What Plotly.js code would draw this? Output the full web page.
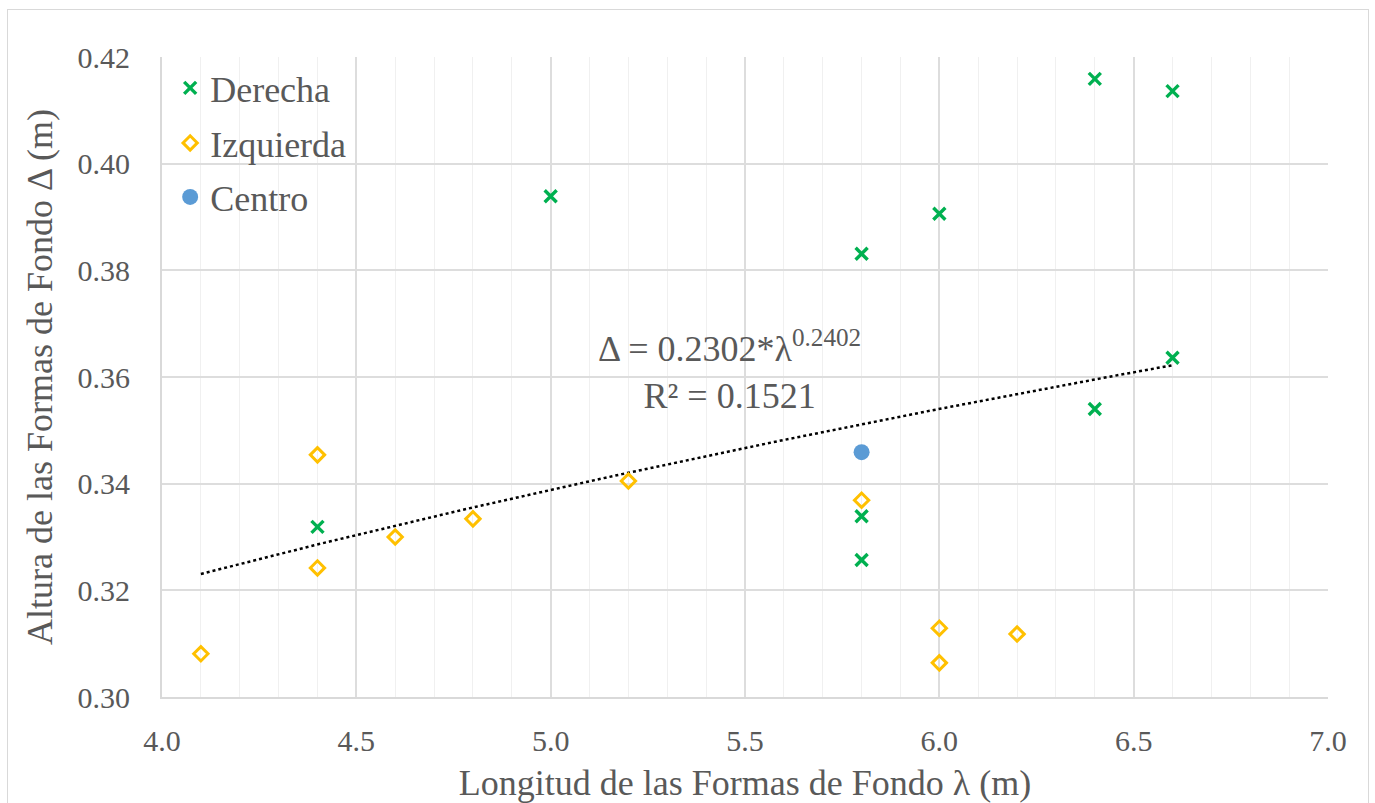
<!DOCTYPE html>
<html>
<head>
<meta charset="utf-8">
<script src="https://cdn.plot.ly/plotly-3.0.1.min.js"></script>
<style>
html,body{margin:0;padding:0;background:#fff;}
#wrap{position:relative;width:1375px;height:803px;overflow:hidden;}
#chart{width:1375px;height:803px;}
#frame{position:absolute;left:7px;top:9px;width:1362px;height:810px;border:1.5px solid #D9D9D9;pointer-events:none;box-sizing:border-box;}
</style>
</head>
<body>
<div id="wrap"><div id="chart"></div><div id="frame"></div></div>
<script>
// Data
const derechaX = [4.4, 5.0, 5.8, 5.8, 5.8, 6.0, 6.4, 6.4, 6.6, 6.6];
const derechaY = [0.3319, 0.3939, 0.3831, 0.3339, 0.3257, 0.3906, 0.4159, 0.3540, 0.4136, 0.3636];

const izquierdaX = [4.1, 4.4, 4.4, 4.6, 4.8, 5.2, 5.8, 6.0, 6.0, 6.2];
const izquierdaY = [0.3081, 0.3454, 0.3242, 0.3300, 0.3334, 0.3405, 0.3369, 0.3129, 0.3064, 0.3118];

const centroX = [5.8];
const centroY = [0.3459];

// Power trendline reported on the chart: Δ = a * λ^b
const trendA = 0.2302;
const trendB = 0.2402;
const trendRange = [4.1, 6.6];

const xTicks = [4.0, 4.5, 5.0, 5.5, 6.0, 6.5, 7.0];
const xMinorTicks = [4.1, 4.2, 4.3, 4.4, 4.6, 4.7, 4.8, 4.9, 5.1, 5.2, 5.3, 5.4, 5.6, 5.7, 5.8, 5.9,
                     6.1, 6.2, 6.3, 6.4, 6.6, 6.7, 6.8, 6.9];
const yTicks = [0.30, 0.32, 0.34, 0.36, 0.38, 0.40, 0.42];

const trendX = [];
const trendY = [];
const nT = 60;
for (let i = 0; i <= nT; i++) {
  const x = trendRange[0] + (trendRange[1] - trendRange[0]) * i / nT;
  trendX.push(x);
  trendY.push(trendA * Math.pow(x, trendB));
}

const FONT = 'Liberation Serif, Times New Roman, serif';
const TXT = '#595959';

const traces = [
  {x: trendX, y: trendY, type: 'scatter', mode: 'lines', showlegend: false, hoverinfo: 'skip',
   line: {color: '#000000', width: 2.5, dash: 'dot'}},
  {x: derechaX, y: derechaY, type: 'scatter', mode: 'markers', name: 'Derecha', legend: 'legend',
   marker: {symbol: 'x-thin-open', size: 12, color: '#00B050', line: {color: '#00B050', width: 3.4}}},
  {x: izquierdaX, y: izquierdaY, type: 'scatter', mode: 'markers', name: 'Izquierda', legend: 'legend2',
   marker: {symbol: 'diamond-open', size: 11, color: '#FFC000', line: {color: '#FFC000', width: 3}}},
  {x: centroX, y: centroY, type: 'scatter', mode: 'markers', name: 'Centro', legend: 'legend3',
   marker: {symbol: 'circle', size: 16, color: '#5B9BD5'}}
];

function leg(yPix) {
  return {
    x: 0.007, y: (697 - yPix) / 640, xanchor: 'left', yanchor: 'middle',
    bgcolor: 'rgba(0,0,0,0)', borderwidth: 0,
    font: {family: FONT, size: 36, color: TXT},
    itemwidth: 30
  };
}

const layout = {
  width: 1375, height: 803,
  margin: {l: 162, r: 47, t: 57, b: 106},
  paper_bgcolor: '#ffffff', plot_bgcolor: '#ffffff',
  font: {family: FONT, color: TXT, size: 30},
  xaxis: {
    range: [4.0, 7.0], tickvals: xTicks, ticktext: xTicks.map(v => v.toFixed(1)),
    showgrid: true, gridcolor: '#DDDDDD', gridwidth: 2,
    minor: {tickvals: xMinorTicks, showgrid: true, gridcolor: '#F0F0F0', gridwidth: 1},
    zeroline: false, showline: true, linecolor: '#D9D9D9', linewidth: 2,
    ticks: '', ticklabelstandoff: 16, tickfont: {family: FONT, size: 30, color: TXT},
    title: {text: 'Longitud de las Formas de Fondo λ (m)', font: {family: FONT, size: 36, color: TXT}, standoff: 14}
  },
  yaxis: {
    range: [0.30, 0.42], tickvals: yTicks, ticktext: yTicks.map(v => v.toFixed(2)),
    showgrid: true, gridcolor: '#DDDDDD', gridwidth: 2,
    zeroline: false, showline: true, linecolor: '#D9D9D9', linewidth: 2,
    ticks: '', ticklabelstandoff: 24, tickfont: {family: FONT, size: 30, color: TXT},
    title: {text: 'Altura de las Formas de Fondo Δ (m)', font: {family: FONT, size: 36, color: TXT}, standoff: 14}
  },
  legend: leg(88),
  legend2: leg(143),
  legend3: leg(197),
  annotations: [{
    x: 5.46, y: 0.3613, xref: 'x', yref: 'y', showarrow: false,
    text: 'Δ = 0.2302*λ<sup>0.2402</sup><br>R² = 0.1521',
    font: {family: FONT, size: 36, color: TXT}, align: 'center'
  }],
  showlegend: true
};

Plotly.newPlot('chart', traces, layout, {displayModeBar: false, staticPlot: true});
</script>
</body>
</html>
